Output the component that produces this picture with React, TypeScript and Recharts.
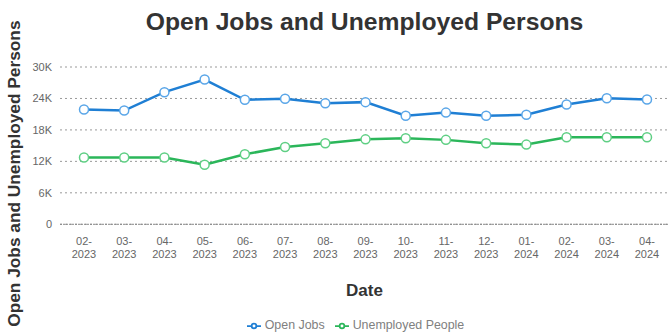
import React from "react";
import {
  CartesianGrid,
  Legend,
  Line,
  LineChart,
  XAxis,
  YAxis,
} from "recharts";

const MONTHS = [
  "02-2023", "03-2023", "04-2023", "05-2023", "06-2023", "07-2023", "08-2023",
  "09-2023", "10-2023", "11-2023", "12-2023", "01-2024", "02-2024", "03-2024", "04-2024",
];
const OPEN_JOBS = [
  21900, 21700, 25200, 27600, 23750, 23950, 23100, 23300, 20700, 21300, 20700, 20900, 22850, 24050, 23800,
];
const UNEMPLOYED = [
  12750, 12750, 12750, 11350, 13350, 14750, 15450, 16200, 16400, 16100, 15450, 15200, 16600, 16600, 16600,
];
const Y_TICKS = [0, 6000, 12000, 18000, 24000, 30000];

const data = MONTHS.map((date, i) => ({
  date,
  openJobs: OPEN_JOBS[i],
  unemployed: UNEMPLOYED[i],
}));

const FONT = "'Liberation Sans', Arial, sans-serif";
const BLUE = "#1f7fd4";
const GREEN = "#2bb65a";

function DateTick(props: any) {
  const { x, y, payload } = props;
  const [m, yr] = String(payload.value).split("-");
  return (
    <text x={x} y={y} textAnchor="middle" fill="#666" fontSize={11} fontFamily={FONT}>
      <tspan x={x} dy={12.5}>{m}-</tspan>
      <tspan x={x} dy={13.5}>{yr}</tspan>
    </text>
  );
}

function YTitle(props: any) {
  const { viewBox } = props;
  const cx = viewBox.x + 14;
  const cy = viewBox.y + viewBox.height / 2 + 28;
  return (
    <text
      x={cx}
      y={cy}
      transform={`rotate(-90 ${cx} ${cy})`}
      textAnchor="middle"
      dominantBaseline="central"
      fontSize={17.3}
      fontWeight="bold"
      fill="#333"
      fontFamily={FONT}
    >
      Open Jobs and Unemployed Persons
    </text>
  );
}

export default function App() {
  return (
    <div style={{ position: "absolute", left: 0, top: 0, width: 669, height: 333, background: "#fff", fontFamily: FONT }}>
      <div
        style={{
          position: "absolute",
          top: 10,
          left: 60,
          right: 0,
          textAlign: "center",
          fontSize: 24.7,
          lineHeight: "24px",
          fontWeight: "bold",
          color: "#333",
        }}
      >
        Open Jobs and Unemployed Persons
      </div>
      <LineChart width={669} height={333} data={data} margin={{ top: 67, right: 0, left: 0, bottom: 0 }}>
        <CartesianGrid vertical={false} stroke="#999" strokeDasharray="2 3" />
        <XAxis
          dataKey="date"
          tick={<DateTick />}
          tickLine={false}
          axisLine={{ stroke: "#888", strokeDasharray: "2 1" }}
          interval={0}
          height={94}
          padding={{ left: 24, right: 22 }}
          label={{ value: "Date", position: "insideBottom", offset: 22, fill: "#333", fontSize: 17, fontWeight: "bold", fontFamily: FONT }}
        />
        <YAxis
          domain={[0, 30000]}
          ticks={Y_TICKS}
          tickFormatter={(v) => (v === 0 ? "0" : `${v / 1000}K`)}
          tick={{ fill: "#666", fontSize: 11, fontFamily: FONT }}
          tickLine={false}
          axisLine={false}
          width={60}
          label={<YTitle />}
        />
        <Legend
          verticalAlign="bottom"
          iconSize={14}
          wrapperStyle={{ fontSize: 12.4, fontFamily: FONT, color: "#808080", left: 56, width: 609 }}
          formatter={(value) => <span style={{ color: "#808080" }}>{value}</span>}
        />
        <Line
          type="linear"
          dataKey="openJobs"
          name="Open Jobs"
          stroke={BLUE}
          strokeWidth={2.5}
          dot={{ r: 4.5, fill: "#fff", stroke: "#5aa6e8", strokeWidth: 1.5 }}
          isAnimationActive={false}
        />
        <Line
          type="linear"
          dataKey="unemployed"
          name="Unemployed People"
          stroke={GREEN}
          strokeWidth={2.5}
          dot={{ r: 4.5, fill: "#fff", stroke: "#5fcf84", strokeWidth: 1.5 }}
          isAnimationActive={false}
        />
      </LineChart>
    </div>
  );
}
